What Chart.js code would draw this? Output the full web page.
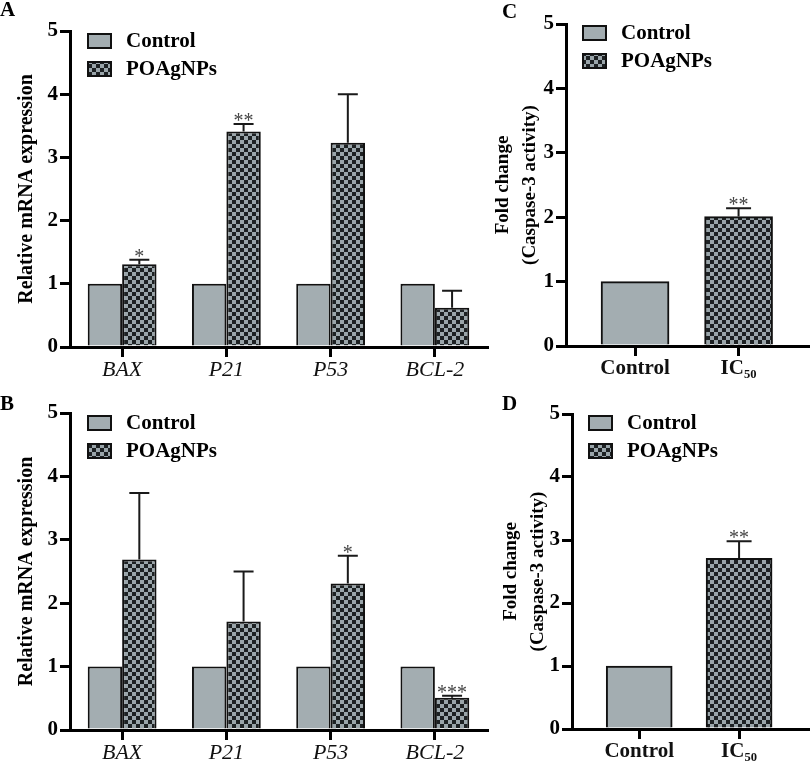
<!DOCTYPE html>
<html>
<head>
<meta charset="utf-8">
<script src="https://cdn.jsdelivr.net/npm/chart.js@4.4.1/dist/chart.umd.min.js"></script>
<style>
body { margin: 0; background: #fff; }
#fig { position: relative; width: 810px; height: 764px; overflow: hidden; }
#fig canvas { position: absolute; }
.tag { position: absolute; font: bold 21px 'Liberation Serif', serif; line-height: 1; color: #000; }
</style>
</head>
<body>
<div id="fig">
  <canvas id="chartA" width="490" height="380" style="left:0;top:0"></canvas>
  <canvas id="chartB" width="490" height="384" style="left:0;top:380px"></canvas>
  <canvas id="chartC" width="320" height="380" style="left:490px;top:0"></canvas>
  <canvas id="chartD" width="320" height="384" style="left:490px;top:380px"></canvas>
  <div class="tag" style="left:0;top:-1px">A</div>
  <div class="tag" style="left:0;top:393px">B</div>
  <div class="tag" style="left:502px;top:1px">C</div>
  <div class="tag" style="left:502px;top:393px">D</div>
</div>
<script>
// gene expression (A, B)
const genes = ['BAX', 'P21', 'P53', 'BCL-2'];
const aControl = [1, 1, 1, 1];
const aTreated = [1.31, 3.41, 3.23, 0.62];
const aSem = [0.07, 0.12, 0.77, 0.27];
const aStars = ['*', '**', '', ''];
const bControl = [1, 1, 1, 1];
const bTreated = [2.69, 1.71, 2.31, 0.51];
const bSem = [1.05, 0.79, 0.44, 0.03];
const bStars = ['', '', '*', '***'];

// caspase-3 activity (C, D)
const groups = ['Control', 'IC₅₀'];
const cControl = [1.00];
const cTreated = [2.01];
const cSem = [0.13];
const cStars = ['**'];
const dControl = [1.00];
const dTreated = [2.71];
const dSem = [0.27];
const dStars = ['**'];

const yTicks = [0, 1, 2, 3, 4, 5];

const SERIF = "'Liberation Serif', 'Times New Roman', serif";
Chart.defaults.font.family = SERIF;
Chart.defaults.color = '#000';

const GREY = '#a3adb1';

function checker() {
  const c = document.createElement('canvas');
  c.width = 8; c.height = 8;
  const g = c.getContext('2d');
  g.fillStyle = '#9aa5aa';
  g.fillRect(0, 0, 8, 8);
  g.fillStyle = '#1d2123';
  g.fillRect(0, 0, 4, 4);
  g.fillRect(4, 4, 4, 4);
  return g.createPattern(c, 'repeat');
}
const CHECK = checker();

// legend boxes drawn inside the plot, top-left
const boxLegend = {
  id: 'boxLegend',
  afterDraw(chart, args, opts) {
    const { ctx, chartArea } = chart;
    ctx.save();
    ctx.font = 'bold 21px ' + SERIF;
    ctx.textBaseline = 'middle';
    ctx.textAlign = 'left';
    chart.data.datasets.forEach((ds, i) => {
      const x = chartArea.left + opts.dx;
      const y = chartArea.top + opts.dy + i * 28;
      ctx.fillStyle = ds.backgroundColor;
      ctx.fillRect(x, y, 23, 14);
      ctx.lineWidth = 2;
      ctx.strokeStyle = '#111';
      ctx.strokeRect(x, y, 23, 14);
      ctx.fillStyle = '#000';
      ctx.fillText(ds.label, x + 38, y + 8);
    });
    ctx.restore();
  }
};

// SEM whiskers + significance marks
const errorBars = {
  id: 'errorBars',
  afterDatasetsDraw(chart, args, opts) {
    const { ctx } = chart;
    const yScale = chart.scales.y;
    chart.data.datasets.forEach((ds, di) => {
      const errs = opts.err[di];
      if (!errs) return;
      const meta = chart.getDatasetMeta(di);
      meta.data.forEach((bar, i) => {
        if (!errs[i]) return;
        const v = meta.controller.getParsed(i).y;
        const top = yScale.getPixelForValue(v + errs[i]);
        ctx.save();
        ctx.strokeStyle = '#1a1a1a';
        ctx.lineWidth = 2;
        ctx.beginPath();
        ctx.moveTo(bar.x, bar.y);
        ctx.lineTo(bar.x, top);
        ctx.moveTo(bar.x - opts.cap / 2, top);
        ctx.lineTo(bar.x + opts.cap / 2, top);
        ctx.stroke();
        const s = opts.stars[di] && opts.stars[di][i];
        if (s) {
          ctx.fillStyle = '#444';
          ctx.font = '20px ' + SERIF;
          ctx.textAlign = 'center';
          ctx.textBaseline = 'alphabetic';
          ctx.fillText(s, bar.x, top + 3);
        }
        ctx.restore();
      });
    });
  }
};

function yAxis(width, titleText, titleFont, titlePad) {
  return {
    min: 0, max: 5,
    afterFit: s => { s.width = width; },
    afterBuildTicks: s => { s.ticks = yTicks.map(v => ({ value: v })); },
    border: { display: true, color: '#000', width: 3 },
    grid: { drawOnChartArea: false, drawTicks: true, tickLength: 10, color: '#000', lineWidth: 3 },
    ticks: { font: { size: 21, weight: 'bold' }, color: '#000', padding: 2 },
    title: { display: true, text: titleText, font: titleFont, color: '#000', padding: { top: titlePad, bottom: 0 } }
  };
}

function geneChart(id, control, treated, sem, stars, pad, xHeight) {
  return new Chart(document.getElementById(id), {
    type: 'bar',
    data: {
      labels: genes,
      datasets: [
        { label: 'Control', data: control, backgroundColor: GREY, borderColor: '#111', borderWidth: 2 },
        { label: 'POAgNPs', data: treated, backgroundColor: CHECK, borderColor: '#111', borderWidth: 2 }
      ]
    },
    options: {
      responsive: false,
      animation: false,
      categoryPercentage: 0.66,
      barPercentage: 1,
      layout: { padding: pad },
      scales: {
        x: {
          afterFit: s => { s.height = xHeight; },
          border: { display: true, color: '#000', width: 3 },
          grid: { offset: false, drawOnChartArea: false, drawTicks: true, tickLength: 10, color: '#000', lineWidth: 3 },
          ticks: { font: { size: 22, style: 'italic', weight: 'normal' }, color: '#111', padding: 0 }
        },
        y: yAxis(70, 'Relative mRNA expression', { size: 20, weight: 'bold', lineHeight: 1.2 }, 15)
      },
      plugins: {
        legend: { display: false },
        tooltip: { enabled: false },
        boxLegend: { dx: 18, dy: 3 },
        errorBars: { err: [null, sem], stars: [null, stars], cap: 20 }
      }
    },
    plugins: [boxLegend, errorBars]
  });
}

function caspaseChart(id, control, treated, sem, stars, o) {
  return new Chart(document.getElementById(id), {
    type: 'bar',
    data: {
      datasets: [
        { label: 'Control', data: control.map(v => ({ x: 0, y: v })), backgroundColor: GREY, borderColor: '#111', borderWidth: 2 },
        { label: 'POAgNPs', data: treated.map(v => ({ x: 1, y: v })), backgroundColor: CHECK, borderColor: '#111', borderWidth: 2 }
      ]
    },
    options: {
      responsive: false,
      animation: false,
      grouped: false,
      barThickness: o.bar,
      layout: { padding: o.pad },
      scales: {
        x: {
          type: 'linear',
          offset: false,
          min: o.xmin, max: o.xmax,
          afterFit: s => { s.height = o.xHeight; },
          afterBuildTicks: s => { s.ticks = groups.map((g, i) => ({ value: i })); },
          border: { display: true, color: '#000', width: 3 },
          grid: { offset: false, drawOnChartArea: false, drawTicks: true, tickLength: 10, color: '#000', lineWidth: 3 },
          ticks: { font: { size: 21, weight: 'bold' }, color: '#111', padding: 0, callback: v => groups[v] }
        },
        y: yAxis(o.yWidth, ['Fold change', '(Caspase-3 activity)'], { size: 19, weight: 'bold', lineHeight: 27 / 19 }, o.titlePad)
      },
      plugins: {
        legend: { display: false },
        tooltip: { enabled: false },
        boxLegend: { dx: 17, dy: 2 },
        errorBars: { err: [null, sem], stars: [null, stars], cap: 25 }
      }
    },
    plugins: [boxLegend, errorBars]
  });
}

function drawAll() {
  geneChart('chartA', aControl, aTreated, aSem, aStars, { top: 31, right: 3, left: 0, bottom: 0 }, 33);
  geneChart('chartB', bControl, bTreated, bSem, bStars, { top: 33, right: 3, left: 0, bottom: 0 }, 34);
  caspaseChart('chartC', cControl, cTreated, cSem, cStars,
    { bar: 68, pad: { top: 24, right: 0, left: 0, bottom: 0 }, xmin: -0.667, xmax: 1.69, xHeight: 34, yWidth: 76, titlePad: 0 });
  caspaseChart('chartD', dControl, dTreated, dSem, dStars,
    { bar: 66, pad: { top: 34, right: 0, left: 0, bottom: 0 }, xmin: -0.673, xmax: 1.71, xHeight: 35, yWidth: 82, titlePad: 8 });
}

// make sure the serif faces are ready before canvas text is drawn
Promise.all([
  document.fonts.load('bold 21px "Liberation Serif"'),
  document.fonts.load('italic 22px "Liberation Serif"'),
  document.fonts.load('20px "Liberation Serif"')
]).then(drawAll, drawAll);
</script>
</body>
</html>
